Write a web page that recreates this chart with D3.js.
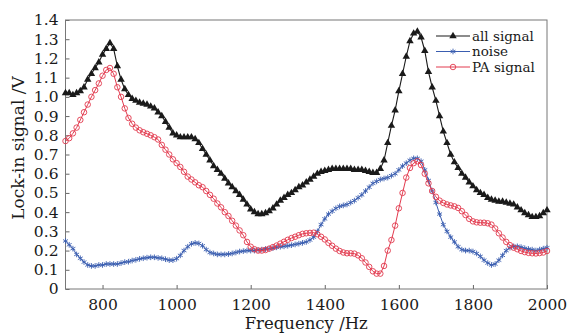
<!DOCTYPE html>
<html>
<head>
<meta charset="utf-8">
<script src="https://cdn.jsdelivr.net/npm/d3@7"></script>
<style>
body { margin: 0; background: #fff; }
text { font-family: "DejaVu Serif", serif; fill: #1a1a1a; }
</style>
</head>
<body>
<div id="chart"></div>
<script>
// frequency points (Hz)
var freq = [
	700, 710, 720, 730, 740, 750, 760, 770, 780, 790,
	800, 810, 820, 830, 840, 850, 860, 870, 880, 890,
	900, 910, 920, 930, 940, 950, 960, 970, 980, 990,
	1000, 1010, 1020, 1030, 1040, 1050, 1060, 1070, 1080, 1090,
	1100, 1110, 1120, 1130, 1140, 1150, 1160, 1170, 1180, 1190,
	1200, 1210, 1220, 1230, 1240, 1250, 1260, 1270, 1280, 1290,
	1300, 1310, 1320, 1330, 1340, 1350, 1360, 1370, 1380, 1390,
	1400, 1410, 1420, 1430, 1440, 1450, 1460, 1470, 1480, 1490,
	1500, 1510, 1520, 1530, 1540, 1550, 1560, 1570, 1580, 1590,
	1600, 1610, 1620, 1630, 1640, 1650, 1660, 1670, 1680, 1690,
	1700, 1710, 1720, 1730, 1740, 1750, 1760, 1770, 1780, 1790,
	1800, 1810, 1820, 1830, 1840, 1850, 1860, 1870, 1880, 1890,
	1900, 1910, 1920, 1930, 1940, 1950, 1960, 1970, 1980, 1990,
	2000
];

var allSignal = [
	1.02, 1.02, 1.01, 1.02, 1.03, 1.05, 1.09, 1.12, 1.15, 1.18,
	1.22, 1.25, 1.28, 1.25, 1.16, 1.09, 1.04, 1.01, 0.99, 0.98,
	0.97, 0.965, 0.96, 0.95, 0.94, 0.92, 0.90, 0.87, 0.84, 0.81,
	0.80, 0.79, 0.79, 0.79, 0.79, 0.78, 0.76, 0.73, 0.70, 0.67,
	0.64, 0.62, 0.60, 0.575, 0.55, 0.53, 0.51, 0.49, 0.465, 0.44,
	0.415, 0.40, 0.39, 0.39, 0.395, 0.405, 0.42, 0.44, 0.46, 0.475,
	0.49, 0.50, 0.515, 0.53, 0.54, 0.555, 0.57, 0.585, 0.60, 0.61,
	0.615, 0.62, 0.625, 0.625, 0.625, 0.625, 0.625, 0.625, 0.62, 0.62,
	0.62, 0.615, 0.61, 0.605, 0.605, 0.625, 0.67, 0.76, 0.85, 0.93,
	1.03, 1.12, 1.21, 1.29, 1.33, 1.34, 1.31, 1.24, 1.13, 1.05,
	0.98, 0.90, 0.82, 0.76, 0.70, 0.66, 0.63, 0.60, 0.58, 0.555,
	0.535, 0.515, 0.50, 0.49, 0.475, 0.465, 0.46, 0.455, 0.455, 0.45,
	0.445, 0.44, 0.425, 0.41, 0.395, 0.385, 0.375, 0.375, 0.38, 0.395,
	0.41
];

var noise = [
	0.25, 0.23, 0.21, 0.18, 0.16, 0.14, 0.125, 0.12, 0.12, 0.125,
	0.125, 0.13, 0.13, 0.13, 0.13, 0.135, 0.14, 0.142, 0.148, 0.152,
	0.157, 0.16, 0.163, 0.165, 0.165, 0.162, 0.16, 0.155, 0.15, 0.15,
	0.158, 0.175, 0.20, 0.22, 0.235, 0.24, 0.237, 0.225, 0.205, 0.19,
	0.185, 0.18, 0.18, 0.18, 0.182, 0.185, 0.19, 0.195, 0.197, 0.20,
	0.20, 0.20, 0.203, 0.205, 0.208, 0.21, 0.213, 0.217, 0.22, 0.222,
	0.225, 0.228, 0.232, 0.236, 0.24, 0.245, 0.255, 0.27, 0.30, 0.335,
	0.365, 0.39, 0.405, 0.42, 0.43, 0.435, 0.44, 0.45, 0.46, 0.475,
	0.49, 0.51, 0.53, 0.55, 0.56, 0.57, 0.575, 0.58, 0.59, 0.60,
	0.62, 0.64, 0.655, 0.67, 0.68, 0.68, 0.665, 0.62, 0.565, 0.51,
	0.45, 0.39, 0.335, 0.30, 0.27, 0.245, 0.22, 0.205, 0.20, 0.20,
	0.195, 0.185, 0.17, 0.15, 0.135, 0.125, 0.13, 0.15, 0.175, 0.20,
	0.215, 0.222, 0.222, 0.218, 0.212, 0.208, 0.205, 0.20, 0.205, 0.21,
	0.215
];

var paSignal = [
	0.77, 0.785, 0.81, 0.84, 0.88, 0.92, 0.96, 1.00, 1.035, 1.07,
	1.11, 1.14, 1.15, 1.12, 1.05, 1.00, 0.94, 0.89, 0.86, 0.84,
	0.826, 0.816, 0.808, 0.80, 0.79, 0.778, 0.75, 0.725, 0.70, 0.675,
	0.655, 0.635, 0.61, 0.585, 0.57, 0.555, 0.54, 0.53, 0.51, 0.49,
	0.47, 0.445, 0.425, 0.40, 0.38, 0.355, 0.33, 0.305, 0.28, 0.245,
	0.22, 0.207, 0.20, 0.20, 0.203, 0.21, 0.218, 0.226, 0.236, 0.246,
	0.256, 0.265, 0.272, 0.28, 0.287, 0.29, 0.292, 0.293, 0.285, 0.272,
	0.258, 0.24, 0.225, 0.21, 0.198, 0.19, 0.186, 0.186, 0.184, 0.175,
	0.16, 0.138, 0.115, 0.092, 0.08, 0.08, 0.12, 0.20, 0.255, 0.33,
	0.42, 0.50, 0.58, 0.63, 0.655, 0.665, 0.645, 0.60, 0.55, 0.51,
	0.48, 0.46, 0.448, 0.44, 0.435, 0.43, 0.422, 0.405, 0.385, 0.365,
	0.352, 0.347, 0.345, 0.345, 0.342, 0.335, 0.315, 0.29, 0.268, 0.245,
	0.228, 0.215, 0.207, 0.198, 0.192, 0.188, 0.186, 0.185, 0.187, 0.19,
	0.198
];

var xTicks = [800, 1000, 1200, 1400, 1600, 1800, 2000];
var yTicks = [0, 0.1, 0.2, 0.3, 0.4, 0.5, 0.6, 0.7, 0.8, 0.9, 1.0, 1.1, 1.2, 1.3, 1.4];
var yTickLabels = ["0", "0.1", "0.2", "0.3", "0.4", "0.5", "0.6", "0.7", "0.8", "0.9", "1.0", "1.1", "1.2", "1.3", "1.4"];

var seriesNames = ["all signal", "noise", "PA signal"];

var width = 571, height = 333;
var margin = {top: 20, right: 24, bottom: 44, left: 65.5};

var x = d3.scaleLinear().domain([700, 2000]).range([margin.left, width - margin.right]);
var y = d3.scaleLinear().domain([0, 1.4]).range([height - margin.bottom, margin.top]);

var svg = d3.select("#chart")
	.append("svg")
	.attr("width", width)
	.attr("height", height);

svg.append("rect")
	.attr("width", width)
	.attr("height", height)
	.attr("fill", "#fff");

var xAxis = d3.axisBottom(x)
	.tickValues(xTicks)
	.tickSizeInner(-4)
	.tickSizeOuter(0)
	.tickPadding(9.5)
	.tickFormat(d3.format("d"));

var yAxis = d3.axisLeft(y)
	.tickValues(yTicks)
	.tickSizeInner(-4)
	.tickSizeOuter(0)
	.tickPadding(7)
	.tickFormat(function (d, i) { return yTickLabels[i]; });

var gx = svg.append("g")
	.attr("transform", "translate(0," + y(0) + ")")
	.call(xAxis);
var gy = svg.append("g")
	.attr("transform", "translate(" + x(700) + ",0)")
	.call(yAxis);

[gx, gy].forEach(function (g) {
	g.select(".domain").remove();
	g.selectAll(".tick line").attr("stroke", "#666");
	g.selectAll(".tick text")
		.style("font-family", "DejaVu Serif")
		.style("font-size", "15.5px")
		.attr("fill", "#1a1a1a");
});

// box around the plot
svg.append("rect")
	.attr("x", x(700))
	.attr("y", y(1.4))
	.attr("width", x(2000) - x(700))
	.attr("height", y(0) - y(1.4))
	.attr("fill", "none")
	.attr("stroke", "#777")
	.attr("stroke-width", 1);

// axis titles
svg.append("text")
	.attr("x", (x(700) + x(2000)) / 2)
	.attr("y", 328.5)
	.attr("text-anchor", "middle")
	.style("font-size", "16.5px")
	.text("Frequency /Hz");

svg.append("text")
	.attr("transform", "translate(24," + 148 + ") rotate(-90)")
	.attr("text-anchor", "middle")
	.style("font-size", "17px")
	.text("Lock-in signal /V");

var line = d3.line()
	.x(function (d) { return x(d[0]); })
	.y(function (d) { return y(d[1]); });

function pairs(vals) {
	return freq.map(function (f, i) { return [f, vals[i]]; });
}

var styles = [
	{data: allSignal, color: "#1a1a1a", width: 1.1, sym: d3.symbolTriangle, size: 24, fill: "#1a1a1a", stroke: "none"},
	{data: noise, color: "#3a5db0", width: 1, sym: d3.symbolAsterisk, size: 22, fill: "none", stroke: "#3a5db0"},
	{data: paSignal, color: "#e23a4e", width: 1, sym: d3.symbolCircle, size: 24, fill: "none", stroke: "#e23a4e"}
];

styles.forEach(function (s) {
	var pts = pairs(s.data);
	svg.append("path")
		.attr("d", line(pts))
		.attr("fill", "none")
		.attr("stroke", s.color)
		.attr("stroke-width", s.width);

	svg.append("g")
		.selectAll("path")
		.data(pts)
		.enter()
		.append("path")
		.attr("transform", function (d) { return "translate(" + x(d[0]) + "," + y(d[1]) + ")"; })
		.attr("d", d3.symbol().type(s.sym).size(s.size))
		.attr("fill", s.fill)
		.attr("stroke", s.stroke)
		.attr("stroke-width", 0.9);
});

// legend
var legend = svg.append("g");
styles.forEach(function (s, i) {
	var ly = 36 + i * 15.5;
	legend.append("line")
		.attr("x1", 436).attr("x2", 470)
		.attr("y1", ly).attr("y2", ly)
		.attr("stroke", s.color)
		.attr("stroke-width", s.width);
	legend.append("path")
		.attr("transform", "translate(453," + ly + ")")
		.attr("d", d3.symbol().type(s.sym).size(s.size))
		.attr("fill", s.fill)
		.attr("stroke", s.stroke)
		.attr("stroke-width", 0.9);
	legend.append("text")
		.attr("x", 472)
		.attr("y", ly + 4.5)
		.style("font-size", "13.5px")
		.text(seriesNames[i]);
});
</script>
</body>
</html>
